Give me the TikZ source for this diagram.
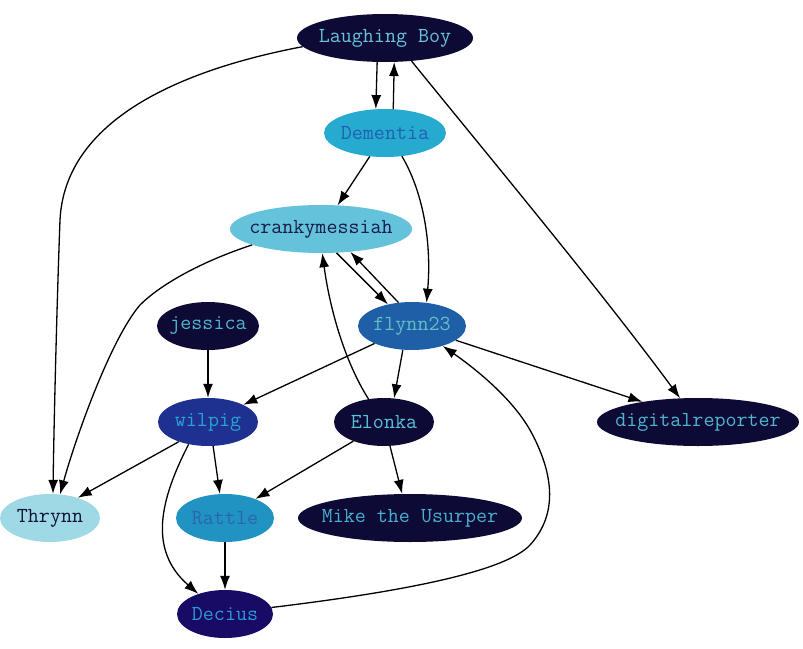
\documentclass[tikz,border=0pt]{standalone}
\usepackage{fontspec}
\usetikzlibrary{shapes.geometric,arrows.meta}
\definecolor{fdark}{HTML}{0D0A35}
\definecolor{fdec}{HTML}{170B66}
\definecolor{fwil}{HTML}{1E3190}
\definecolor{ffly}{HTML}{1F5FA7}
\definecolor{frat}{HTML}{2193C3}
\definecolor{fdem}{HTML}{27AAD0}
\definecolor{fcm}{HTML}{64C3DB}
\definecolor{fthr}{HTML}{9ED9E5}
\definecolor{tlb}{HTML}{6AC3D8}
\definecolor{tdem}{HTML}{2060B0}
\definecolor{tcm}{HTML}{151A48}
\definecolor{tjes}{HTML}{4EB4D0}
\definecolor{tfly}{HTML}{62C0C0}
\definecolor{twil}{HTML}{2AA2D2}
\definecolor{tel}{HTML}{5AC2D8}
\definecolor{trat}{HTML}{2A66AE}
\definecolor{tmike}{HTML}{48B0CF}
\definecolor{tthr}{HTML}{101438}
\definecolor{tdec}{HTML}{2F98D6}
\definecolor{tdr}{HTML}{4FB5D0}
\newcommand{\lbl}[1]{\raisebox{-1.5pt}{\makebox[0pt]{#1}}}
\begin{document}
\begin{tikzpicture}[x=1pt,y=-1pt,
  nd/.style={ellipse,draw=none,inner sep=0pt,minimum height=48pt,
    font=\ttfamily\fontsize{21.4}{24}\selectfont},
  edge/.style={draw=black,line width=1.3pt,-{Latex[length=14pt,width=10pt]}}]
\useasboundingbox (0,0) rectangle (803,648);
\node[nd,fill=fdark,text=tlb,minimum width=176pt] (lb) at (385,38) {\lbl{Laughing Boy}};
\node[nd,fill=fdem,text=tdem,minimum width=122pt] (dem) at (385,133) {\lbl{Dementia}};
\node[nd,fill=fcm,text=tcm,minimum width=182pt] (cm) at (321,229) {\lbl{crankymessiah}};
\node[nd,fill=fdark,text=tjes,minimum width=102pt] (jes) at (208,326) {\lbl{jessica}};
\node[nd,fill=ffly,text=tfly,minimum width=108pt] (fly) at (412,326) {\lbl{flynn23}};
\node[nd,fill=fwil,text=twil,minimum width=100pt] (wil) at (208,422) {\lbl{wilpig}};
\node[nd,fill=fdark,text=tel,minimum width=100pt] (el) at (384,422) {\lbl{Elonka}};
\node[nd,fill=fdark,text=tdr,minimum width=202pt] (dr) at (698,422) {\lbl{digitalreporter}};
\node[nd,fill=fthr,text=tthr,minimum width=100pt] (thr) at (50,518) {\lbl{Thrynn}};
\node[nd,fill=frat,text=trat,minimum width=98pt] (rat) at (225,518) {\lbl{Rattle}};
\node[nd,fill=fdark,text=tmike,minimum width=224pt] (mike) at (410,518) {\lbl{Mike the Usurper}};
\node[nd,fill=fdec,text=tdec,minimum width=96pt] (dec) at (225,614) {\lbl{Decius}};

\draw[edge] (lb.-108) -- (dem.111);
\draw[edge] (dem.71) -- (lb.-69);
\draw[edge] (lb.-174) .. controls (180,70) and (65,120) .. (60,220) .. controls (57,300) and (54,420) .. (thr.83);
\draw[edge] (lb.-41) .. controls (500,170) and (600,290) .. (dr.127);
\draw[edge] (dem.-123) -- (cm.55);
\draw[edge] (dem.-54) .. controls (422,190) and (432,240) .. (fly.58);
\draw[edge] (cm.-57) -- (fly.138);
\draw[edge] (fly.120) -- (cm.-38);
\draw[edge] (cm.-167) .. controls (200,262) and (160,285) .. (140,305) .. controls (110,340) and (75,440) .. (thr.67);
\draw[edge] (jes) -- (wil);
\draw[edge] (fly.-155) -- (wil.26);
\draw[edge] (fly.-111) -- (el.67);
\draw[edge] (fly.-18) -- (dr.160);
\draw[edge] (el.124) .. controls (345,362) and (330,310) .. (cm.-87);
\draw[edge] (wil.-146) -- (thr.36);
\draw[edge] (wil.-78) -- (rat.102);
\draw[edge] (wil.-131) .. controls (160,500) and (148,550) .. (dec.143);
\draw[edge] (el.-148) -- (rat.32);
\draw[edge] (el.-76) -- (mike.108);
\draw[edge] (rat) -- (dec);
\draw[edge] (dec.8) .. controls (400,592) and (505,572) .. (530,545) .. controls (560,512) and (552,470) .. (530,430) .. controls (510,395) and (470,365) .. (fly.-33);
\end{tikzpicture}
\end{document}
